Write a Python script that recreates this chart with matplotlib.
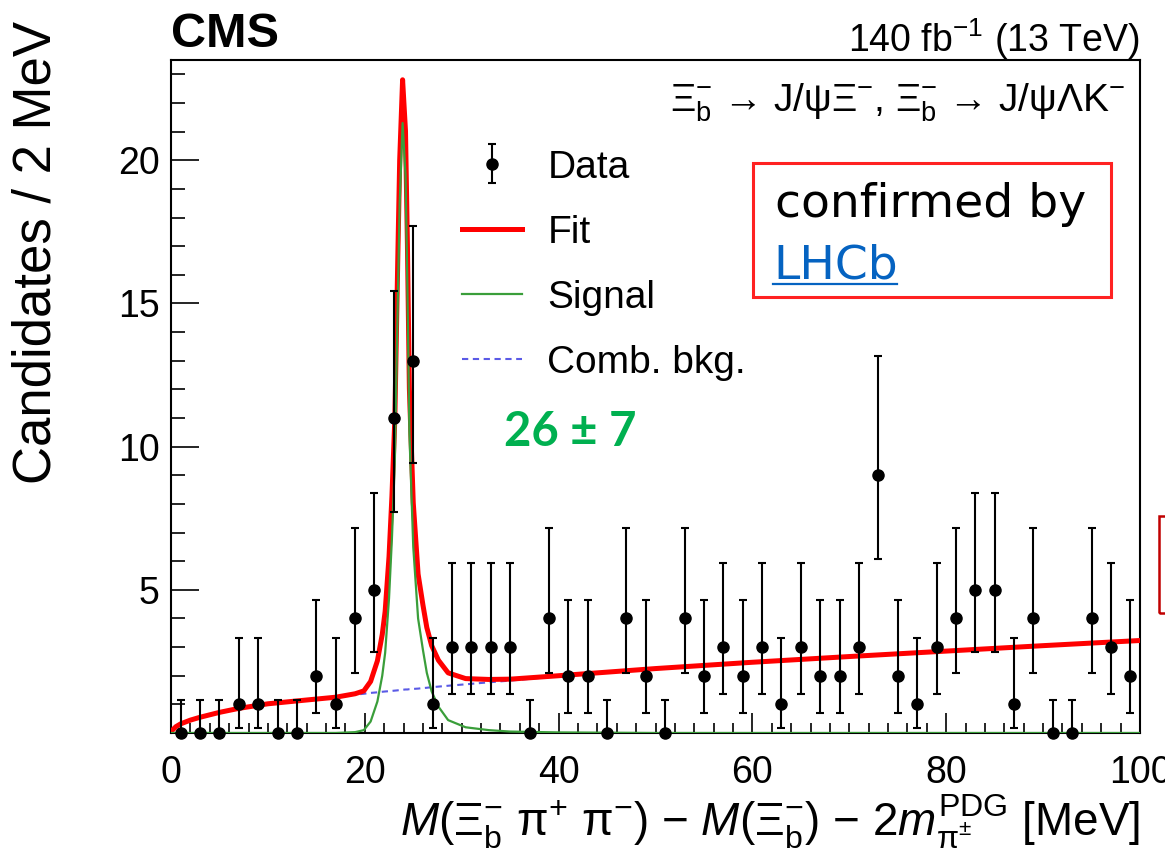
import numpy as np
import matplotlib
matplotlib.use("Agg")
import matplotlib.pyplot as plt
from matplotlib.ticker import MultipleLocator
from matplotlib.patches import Rectangle
from matplotlib.lines import Line2D

# 2 MeV bins, centres 1 ... 99
bin_centers = np.arange(1, 100, 2)
counts = [0, 0, 0, 1, 1, 0, 0, 2, 1, 4,
          5, 11, 13, 1, 3, 3, 3, 3, 0, 4,
          2, 2, 0, 4, 2, 0, 4, 2, 3, 2,
          3, 1, 3, 2, 2, 3, 9, 2, 1, 3,
          4, 5, 5, 1, 4, 0, 0, 4, 3, 2]

# asymmetric Poisson interval (lower, upper) per count, as drawn
poisson_low = {0: 0.0, 1: 0.17, 2: 0.71, 3: 1.37, 4: 2.09, 5: 2.84, 9: 6.06, 11: 7.73, 13: 9.43}
poisson_high = {0: 1.15, 1: 3.30, 2: 4.64, 3: 5.92, 4: 7.16, 5: 8.38, 9: 13.15, 11: 15.43, 13: 17.70}

# fit components
curve_x = [0, 0.5, 1, 2, 3, 5, 7, 10, 13, 17,
           19, 19.9, 20.6, 21.3, 21.8, 22.1, 22.5, 22.8, 23.1, 23.4,
           23.6, 23.9, 24.2, 24.4, 24.6, 25.0, 25.5, 26.0, 26.4, 26.9,
           27.6, 28.6, 30.4, 32.8, 35, 40, 50, 60, 70, 80,
           90, 100]
bkg_y = [0.05, 0.22, 0.32, 0.45, 0.55, 0.72, 0.86, 1.02, 1.12, 1.25,
         1.34, 1.37, 1.40, 1.42, 1.44, 1.45, 1.46, 1.47, 1.48, 1.49,
         1.50, 1.51, 1.52, 1.52, 1.53, 1.54, 1.55, 1.57, 1.58, 1.60,
         1.62, 1.65, 1.70, 1.77, 1.83, 1.98, 2.25, 2.47, 2.67, 2.86,
         3.05, 3.23]
sig_y = [0, 0, 0, 0, 0, 0, 0, 0, 0, 0,
         0.03, 0.1, 0.4, 1.1, 2.0, 2.8, 4.7, 6.8, 9.5, 15.0,
         18.5, 21.3, 19.5, 15.5, 10.5, 6.5, 4.0, 2.9, 2.1, 1.45,
         0.92, 0.45, 0.2, 0.1, 0.05, 0.02, 0, 0, 0, 0,
         0, 0]

plt.rcParams["font.family"] = ["Liberation Sans", "DejaVu Sans"]
plt.rcParams["mathtext.fontset"] = "custom"
plt.rcParams["mathtext.rm"] = "Liberation Sans"
plt.rcParams["mathtext.it"] = "Liberation Sans:italic"
plt.rcParams["mathtext.bf"] = "Liberation Sans:bold"

W, H = 1165, 855
fig = plt.figure(figsize=(W / 100, H / 100), dpi=100)
ax = fig.add_axes([171 / W, 1 - 733 / H, (1140 - 171) / W, (733 - 60) / H])

fit_y = np.array(sig_y) + np.array(bkg_y)
err_lo = [c - poisson_low[c] for c in counts]
err_hi = [poisson_high[c] - c for c in counts]

bkg_line, = ax.plot(curve_x, bkg_y, color="#5a5ae6", lw=1.5, ls=(0, (3, 2.2)), zorder=2)
fit_line, = ax.plot(curve_x, fit_y, color="#ff0000", lw=3.6, zorder=3)
sig_line, = ax.plot(curve_x, sig_y, color="#3a9e3a", lw=1.6, zorder=4)
eb = ax.errorbar(bin_centers, counts, yerr=[err_lo, err_hi], fmt="o", color="black",
                 ms=8, elinewidth=1.5, capsize=3, capthick=1.5, zorder=5)
for art in eb.get_children():
    art.set_clip_on(False)

ax.set_xlim(0, 100)
ax.set_ylim(0, 23.5)
ax.xaxis.set_major_locator(MultipleLocator(20))
ax.xaxis.set_minor_locator(MultipleLocator(2))
ax.set_yticks([5, 10, 15, 20])
ax.yaxis.set_minor_locator(MultipleLocator(1))
ax.tick_params(which="both", direction="in", top=False, right=False, width=1.2)
ax.tick_params(axis="y", which="major", length=20, pad=8, labelsize=27)
ax.tick_params(axis="y", which="minor", length=10)
ax.tick_params(axis="x", which="major", length=14.5, pad=16, labelsize=27)
ax.tick_params(axis="x", which="minor", length=7.2)
for sp in ax.spines.values():
    sp.set_linewidth(1.5)

ax.set_ylabel("Candidates / 2 MeV", loc="top", fontsize=38)
ax.yaxis.set_label_coords(-0.113, 1.058)
ax.set_xlabel(r"$M$($\Xi_{\rm b}^{-}$ $\mathrm{\pi}^{+}$ $\mathrm{\pi}^{-}$) − $M$($\Xi_{\rm b}^{-}$)"
              r" − 2$m^{\rm PDG}_{\mathrm{\pi}^{\pm}}$ [MeV]", loc="right", fontsize=33)
ax.xaxis.set_label_coords(1.0, -0.089)

ax.text(0, (733 - 47) / 673, "CMS", transform=ax.transAxes, fontsize=35,
        fontweight="bold", ha="left", va="baseline")
ax.text(1.0, (733 - 52) / 673, r"140 fb$^{-1}$ (13 TeV)", transform=ax.transAxes,
        fontsize=27, ha="right", va="baseline")
ax.text(0.9845, (733 - 111) / 673,
        r"$\Xi_{\rm b}^{-}$ → J/ψΞ$^{-}$, $\Xi_{\rm b}^{-}$ → J/ψΛK$^{-}$",
        transform=ax.transAxes, fontsize=28, ha="right", va="baseline")

ax.legend([eb, fit_line, sig_line, bkg_line], ["Data", "Fit", "Signal", "Comb. bkg."],
          loc="upper left", bbox_to_anchor=(0.30, 0.867), frameon=False, fontsize=28,
          handlelength=1.55, handletextpad=0.65, labelspacing=0.75,
          borderpad=0, borderaxespad=0)

ax.text(0.412, 0.447, "26 ± 7", transform=ax.transAxes, color="#00b050", fontsize=34,
        fontweight="bold", family="Lato", ha="center", va="center")

# slide annotation box
fig.add_artist(Rectangle((753 / W, 1 - 297 / H), (1111 - 753) / W, (297 - 163) / H,
                         transform=fig.transFigure, facecolor="white",
                         edgecolor="#ff2222", lw=2.2, zorder=10))
fig.text(775 / W, 1 - 217 / H, "confirmed by", fontsize=34, family="DejaVu Sans",
         va="baseline", zorder=11)
fig.text(773 / W, 1 - 278 / H, "LHCb", fontsize=34, family="DejaVu Sans",
         color="#0563c1", va="baseline", zorder=11)
fig.add_artist(Line2D([773 / W, 897 / W], [1 - 284 / H] * 2, transform=fig.transFigure,
                      color="#0563c1", lw=1.6, zorder=11))
# edge of another box, cut off at the right border
fig.add_artist(Rectangle((1159 / W, 1 - 613 / H), 0.05, (613 - 516) / H,
                         transform=fig.transFigure, fill=False,
                         edgecolor="#c00000", lw=1.8, zorder=10))

fig.savefig("out.png", dpi=100)
